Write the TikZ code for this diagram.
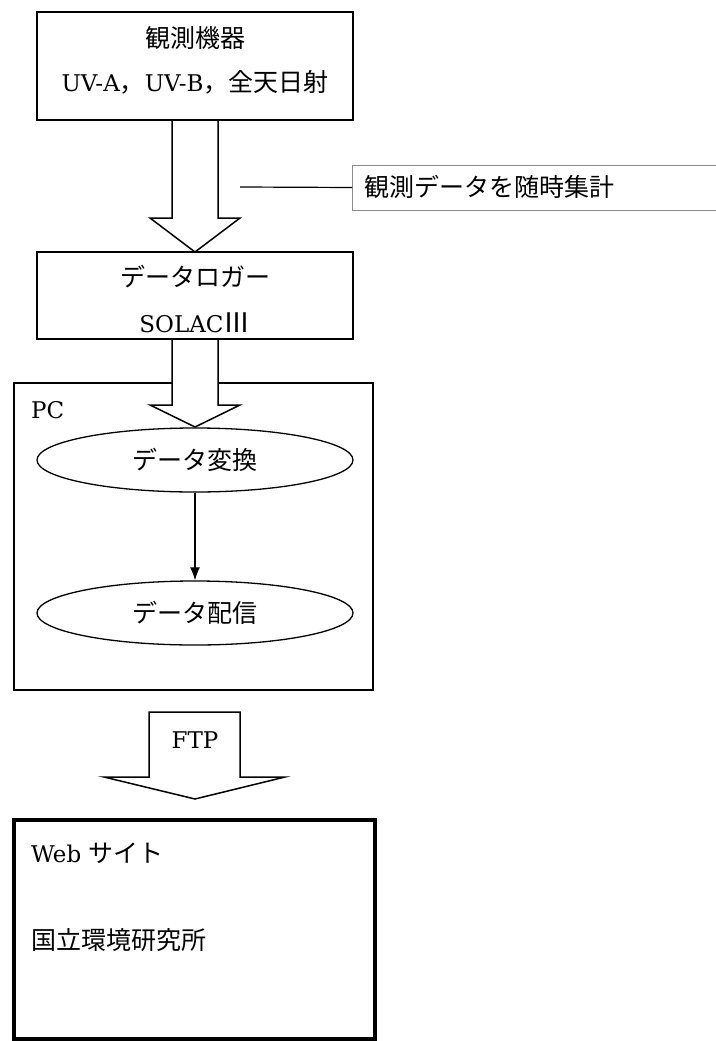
\documentclass[tikz,border=0pt]{standalone}
\usepackage{fontspec}
\setmainfont{DejaVu Serif}
\newfontfamily\jp{Noto Sans CJK JP}
\usetikzlibrary{shapes.geometric,arrows.meta}
\begin{document}
\begin{tikzpicture}[x=1pt,y=-1pt,
  box/.style={draw,line width=1.5pt,inner sep=0pt,fill=white},
  blockarrow/.style={draw,line width=1.5pt,fill=white,line join=miter},
  lbl/.style={inner sep=0pt,font=\fontsize{23}{28}\selectfont},
  jlbl/.style={inner sep=0pt,font=\fontsize{25}{30}\selectfont\jp},
  oval/.style={draw,ellipse,line width=1.3pt,minimum width=316pt,minimum height=64pt,inner sep=0pt},
  notebox/.style={draw=black!45,line width=0.8pt,inner sep=0pt}]
\useasboundingbox (0,0) rectangle (715,1041);
\fill[white] (0,0) rectangle (715,1041);

% callout
\node[notebox,minimum width=430pt,minimum height=45pt,anchor=west] (note) at (352,187.5) {};
\node[jlbl,anchor=west] (notetext) at (364,187) {観測データを随時集計};
\coordinate (a1r) at (240,187);
\draw[line width=1.2pt] (a1r) -- (note.west);

% arrow 1
\draw[blockarrow] (172,118) -- (172,218) -- (150,218) -- (195,252) -- (240,218) -- (218,218) -- (218,118);

% PC box
\node[box,minimum width=359pt,minimum height=307pt] (pc) at (193.5,536.5) {};
\node[lbl,anchor=west] (pclbl) at (31,410) {PC};

% arrow 2
\draw[blockarrow] (172,337) -- (172,405) -- (150,405) -- (195,427) -- (240,405) -- (218,405) -- (218,337);

% boxes
\node[box,minimum width=316pt,minimum height=108pt] (obs) at (195,66) {};
\node[jlbl] (obs1) at (195,38) {観測機器};
\node[lbl] (obs2) at (195,82) {UV-A{\jp\fontsize{25}{30}\selectfont ，}UV-B{\jp\fontsize{25}{30}\selectfont ，全天日射}};

\node[box,minimum width=316pt,minimum height=87pt] (logger) at (195,295.5) {};
\node[jlbl] (log1) at (195,277) {データロガー};
\node[lbl] (log2) at (195,323) {SOLAC{\jp\fontsize{27}{30}\selectfont Ⅲ}};

% ellipses
\node[oval,font=\fontsize{25}{30}\selectfont\jp] (conv) at (195,460) {データ変換};
\node[oval,font=\fontsize{25}{30}\selectfont\jp] (dist) at (195,613) {データ配信};
\draw[line width=1.2pt,-{Latex[length=13pt,width=10pt]}] (conv.south) -- (dist.north);

% FTP arrow
\draw[blockarrow] (149,712) -- (240,712) -- (240,777) -- (285,777) -- (195,799) -- (104,777) -- (149,777) -- cycle;
\node[lbl] (ftp) at (195,740) {FTP};

% Web box
\node[draw,line width=3.5pt,minimum width=361pt,minimum height=219pt,inner sep=0pt] (web) at (194.5,929.5) {};
\node[lbl,anchor=west] (web1) at (31,853) {Web {\jp\fontsize{25}{30}\selectfont サイト}};
\node[jlbl,anchor=west] (web2) at (31,940) {国立環境研究所};
\end{tikzpicture}
\end{document}
